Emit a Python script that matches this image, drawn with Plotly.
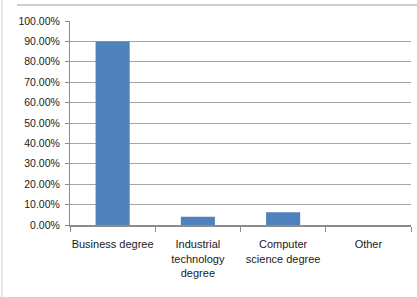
import plotly.graph_objects as go

categories = ["Business degree", "Industrial<br>technology<br>degree", "Computer<br>science degree", "Other"]
values = [0.90, 0.04, 0.062, 0.0]
tick_vals = [0, 0.1, 0.2, 0.3, 0.4, 0.5, 0.6, 0.7, 0.8, 0.9, 1.0]

font_family = "Liberation Sans Narrow, Arial Narrow, Liberation Sans, sans-serif"

fig = go.Figure(go.Bar(
    x=categories, y=values, width=0.4,
    marker=dict(color="#4f81bd", line=dict(width=0)),
))

fig.update_layout(
    width=417, height=297,
    margin=dict(l=70, r=6, t=21, b=72, autoexpand=False),
    paper_bgcolor="white", plot_bgcolor="white",
    showlegend=False,
    font=dict(family=font_family, size=10.5, color="#1a1a1a"),
    bargap=0.6,
    shapes=[
        dict(type="line", xref="paper", yref="paper", x0=-53/341, x1=1.03, y0=1 + 16/204, y1=1 + 16/204,
             line=dict(color="#a0a0a0", width=1)),
        dict(type="line", xref="paper", yref="paper", x0=-68/341, x1=-68/341, y0=-72/204, y1=1 + 21/204,
             line=dict(color="#d0d0d0", width=1)),
    ],
)
fig.update_xaxes(
    type="category", showgrid=False, showline=True, linecolor="#8c8c8c", linewidth=2,
    ticks="outside", tickson="boundaries", ticklen=5, tickcolor="#8c8c8c",
    tickangle=0, tickfont=dict(size=11), ticklabelstandoff=8, fixedrange=True,
)
fig.update_yaxes(
    range=[0, 1], tickvals=tick_vals, tickformat=".2%",
    showgrid=True, gridcolor="#a6a6a6", gridwidth=1,
    showline=True, linecolor="#8c8c8c", linewidth=1,
    ticks="outside", ticklen=4, tickcolor="#8c8c8c",
    tickfont=dict(size=10.5), ticklabelstandoff=3, zeroline=False, fixedrange=True,
)

fig.write_html("out.html", config={"displayModeBar": False},
               post_script="document.body.style.margin='0';")
